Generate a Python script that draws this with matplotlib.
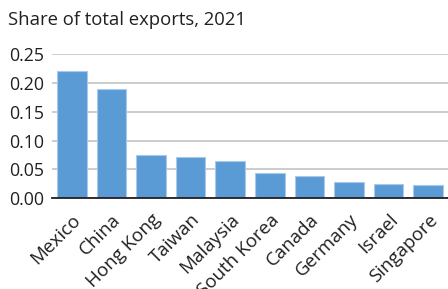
import matplotlib.pyplot as plt
import numpy as np

countries = ["Mexico", "China", "Hong Kong", "Taiwan", "Malaysia",
             "South Korea", "Canada", "Germany", "Israel", "Singapore"]
shares = [0.221, 0.189, 0.075, 0.071, 0.064, 0.043, 0.039, 0.029, 0.025, 0.023]
yticks = [0.00, 0.05, 0.10, 0.15, 0.20, 0.25]

plt.rcParams["font.family"] = ["Open Sans", "DejaVu Sans"]

fig = plt.figure(figsize=(4.48, 2.89), dpi=100)
ax = fig.add_axes([0.116, 0.314, 0.884, 0.499])

x = np.arange(len(countries))
ax.bar(x, shares, width=0.745, color="#5b9bd5", edgecolor="#a9c9ea",
       linewidth=0.8, zorder=3)

ax.set_xlim(-0.5, len(countries) - 0.5)
ax.set_ylim(0, 0.25)
ax.set_yticks(yticks)
ax.set_yticklabels([f"{v:.2f}" for v in yticks], fontsize=12.8, color="#231f20")
ax.set_xticks(x)
ax.set_xticklabels(countries, rotation=45, ha="right", rotation_mode="anchor",
                   fontsize=13.5, color="#231f20")
ax.tick_params(axis="y", length=0, pad=6)
ax.tick_params(axis="x", length=0, pad=9)

ax.grid(axis="y", color="#c4c4c4", linewidth=1.2, zorder=0)
for s in ["top", "right", "left"]:
    ax.spines[s].set_visible(False)
ax.spines["bottom"].set_color("#231f20")
ax.spines["bottom"].set_linewidth(1.3)
ax.spines["bottom"].set_zorder(4)

fig.text(0.018, 0.93, "Share of total exports, 2021", fontsize=13.3,
         color="#231f20", va="center", ha="left")

fig.savefig("out.png", dpi=100)
